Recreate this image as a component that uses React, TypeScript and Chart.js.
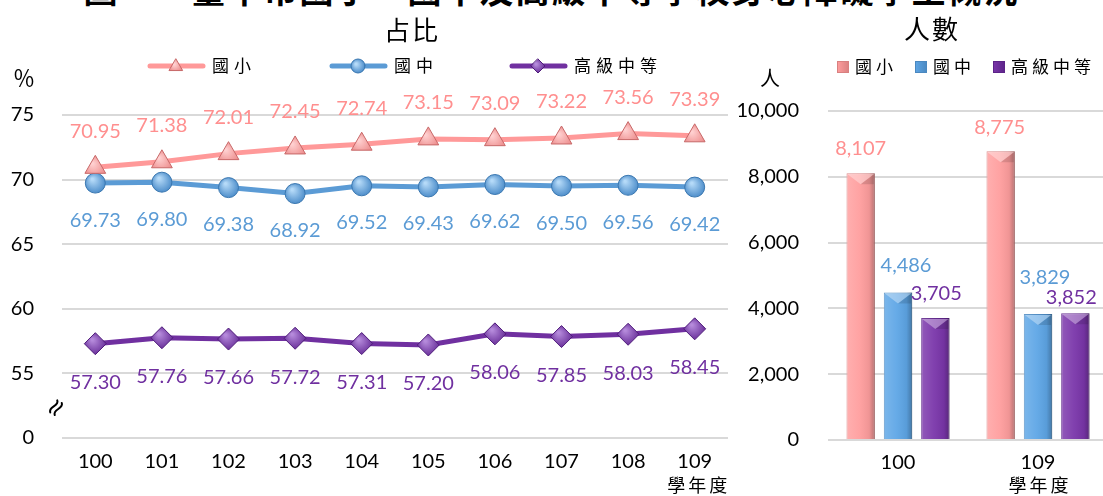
import React, { useEffect, useRef } from 'react';
import { Chart, registerables } from 'chart.js';

Chart.register(...registerables);

// ---------------- data ----------------
const years = ['100', '101', '102', '103', '104', '105', '106', '107', '108', '109'];
const primaryShare = [70.95, 71.38, 72.01, 72.45, 72.74, 73.15, 73.09, 73.22, 73.56, 73.39];
const juniorShare = [69.73, 69.8, 69.38, 68.92, 69.52, 69.43, 69.62, 69.5, 69.56, 69.42];
const seniorShare = [57.3, 57.76, 57.66, 57.72, 57.31, 57.2, 58.06, 57.85, 58.03, 58.45];

const countYears = ['100', '109'];
const primaryCount = [8107, 8775];
const juniorCount = [4486, 3829];
const seniorCount = [3705, 3852];

const seriesNames = ['國小', '國中', '高級中等'];
const shareAxisMin = 50;
const shareAxisMax = 75;
const shareStep = 5;
const shareBreakLabel = '0';
const countAxisMax = 10000;
const countStep = 2000;
const yearUnit = '學年度';
const shareTitle = '占比';
const countTitle = '人數';
const shareUnit = '％';
const countUnit = '人';
const figureTitle = '圖一　臺中市國小、國中及高級中等學校身心障礙學生概況';

// ---------------- styles ----------------
const LATIN = 'Lato, "Noto Sans", sans-serif';
const CJK = '"Noto Sans CJK TC", "Noto Sans", sans-serif';
const lineColors = ['#FF9999', '#5B9BD5', '#7030A0'];
const labelColors = ['#FF8F8F', '#5B9BD5', '#7030A0'];
const markerLight = ['#FFD0D0', '#B5DAF8', '#B58ADB'];
const markerDark = ['#E87C7C', '#3F83C4', '#5E2290'];
const markerEdge = ['#C76868', '#3A77B0', '#4F1C7A'];
const barColors = ['#FF9E9E', '#5EA6E6', '#7A36AA'];
const barEdges = ['#D98080', '#4A88C0', '#5C2388'];
const pointStyles = ['triangle', 'circle', 'rectRot'];
const pointRadii = [12, 10, 11];
const lineLabelOffsets = [-36, 37, 39];
const lineLegendX = [148, 330, 510];
const barLegendX = [837 - 720, 915 - 720, 993 - 720];
// label placement nudges [dx, dy] per series, per category (style only)
const barLabelNudge = [
  [[0, -25], [-1, -24]],
  [[8, -27], [7, -36]],
  [[1, -25], [-4, -16]],
];
const gridColor = '#D9D9D9';

function drawMarker(c: CanvasRenderingContext2D, style: string, x: number, y: number, r: number) {
  c.beginPath();
  if (style === 'triangle') {
    c.moveTo(x, y - r);
    c.lineTo(x + r * 0.95, y + r * 0.65);
    c.lineTo(x - r * 0.95, y + r * 0.65);
    c.closePath();
  } else if (style === 'circle') {
    c.arc(x, y, r, 0, Math.PI * 2);
  } else {
    c.moveTo(x, y - r);
    c.lineTo(x + r, y);
    c.lineTo(x, y + r);
    c.lineTo(x - r, y);
    c.closePath();
  }
}

function pointFill(i: number) {
  return (ctx: any) => {
    if (ctx.type !== 'data') return lineColors[i];
    const chart = ctx.chart;
    const xs = chart.scales && chart.scales.x;
    const ys = chart.scales && chart.scales.y;
    if (!xs || !ys) return lineColors[i];
    const x = xs.getPixelForValue(ctx.dataIndex);
    const y = ys.getPixelForValue(Number(ctx.raw));
    if (!Number.isFinite(x) || !Number.isFinite(y)) return lineColors[i];
    const g = chart.ctx.createRadialGradient(x - 3, y - 4, 1, x, y, pointRadii[i] + 2);
    g.addColorStop(0, markerLight[i]);
    g.addColorStop(1, markerDark[i]);
    return g;
  };
}

const shareDecor = {
  id: 'shareDecor',
  afterDatasetsDraw(chart: any) {
    const c = chart.ctx as CanvasRenderingContext2D;
    c.save();
    c.font = `20px ${LATIN}`;
    c.textAlign = 'center';
    c.textBaseline = 'middle';
    chart.data.datasets.forEach((ds: any, i: number) => {
      const meta = chart.getDatasetMeta(i);
      c.fillStyle = labelColors[i];
      meta.data.forEach((el: any, j: number) => {
        c.fillText(Number(ds.data[j]).toFixed(2), el.x, el.y + lineLabelOffsets[i]);
      });
    });
    c.restore();
  },
  afterDraw(chart: any) {
    const c = chart.ctx as CanvasRenderingContext2D;
    c.save();
    const ly = 66;
    chart.data.datasets.forEach((ds: any, i: number) => {
      const x0 = lineLegendX[i];
      c.strokeStyle = lineColors[i];
      c.lineWidth = 5;
      c.lineCap = 'round';
      c.beginPath();
      c.moveTo(x0 + 2, ly);
      c.lineTo(x0 + 55, ly);
      c.stroke();
      const g = c.createRadialGradient(x0 + 26, ly - 2, 1, x0 + 28, ly, 8);
      g.addColorStop(0, markerLight[i]);
      g.addColorStop(1, markerDark[i]);
      c.fillStyle = g;
      c.strokeStyle = markerEdge[i];
      c.lineWidth = 1;
      drawMarker(c, pointStyles[i], x0 + 28, ly, 7);
      c.fill();
      c.stroke();
      c.fillStyle = '#000';
      c.font = `17px ${CJK}`;
      (c as any).letterSpacing = '5px';
      c.textAlign = 'left';
      c.textBaseline = 'middle';
      c.fillText(ds.label, x0 + 64, ly);
      (c as any).letterSpacing = '0px';
    });
    const xs = chart.scales.x;
    c.fillStyle = '#000';
    c.font = `18px ${CJK}`;
    (c as any).letterSpacing = '3px';
    c.textAlign = 'center';
    c.textBaseline = 'middle';
    c.fillText(yearUnit, xs.getPixelForValue(years.length - 1) + 4, 485);
    (c as any).letterSpacing = '0px';
    const ys = chart.scales.y;
    const by = (ys.getPixelForValue(shareAxisMin) + ys.getPixelForValue(shareAxisMin + shareStep)) / 2 + 2;
    c.translate(56, by);
    c.rotate(-Math.PI / 3);
    c.strokeStyle = '#000';
    c.lineWidth = 2;
    [-2.6, 2.6].forEach((off) => {
      c.beginPath();
      c.moveTo(-7, off);
      c.bezierCurveTo(-3, off - 5, 3, off + 5, 7, off);
      c.stroke();
    });
    c.restore();
  },
};

const countDecor = {
  id: 'countDecor',
  afterDatasetDraw(chart: any, args: any) {
    const c = chart.ctx as CanvasRenderingContext2D;
    const meta = chart.getDatasetMeta(args.index);
    c.save();
    meta.data.forEach((el: any) => {
      const { x, y, base, width } = el.getProps(['x', 'y', 'base', 'width'], true);
      if (![x, y, base, width].every(Number.isFinite)) return;
      const left = x - width / 2;
      const g = c.createLinearGradient(left, 0, left + width, 0);
      g.addColorStop(0, 'rgba(255,255,255,0.18)');
      g.addColorStop(0.45, 'rgba(255,255,255,0.05)');
      g.addColorStop(0.8, 'rgba(0,0,0,0.06)');
      g.addColorStop(1, 'rgba(0,0,0,0.28)');
      c.fillStyle = g;
      c.fillRect(left, y, width, base - y);
      c.fillStyle = 'rgba(255,255,255,0.35)';
      c.beginPath();
      c.moveTo(left + 1, y + 1);
      c.lineTo(left + width - 1, y + 1);
      c.lineTo(x, y + 11);
      c.closePath();
      c.fill();
      c.fillStyle = 'rgba(0,0,0,0.12)';
      c.beginPath();
      c.moveTo(left + width - 1, y + 1);
      c.lineTo(left + width - 1, y + 11);
      c.lineTo(x, y + 11);
      c.closePath();
      c.fill();
    });
    c.restore();
  },
  afterDatasetsDraw(chart: any) {
    const c = chart.ctx as CanvasRenderingContext2D;
    c.save();
    c.font = `20px ${LATIN}`;
    c.textAlign = 'center';
    c.textBaseline = 'middle';
    chart.data.datasets.forEach((ds: any, i: number) => {
      const meta = chart.getDatasetMeta(i);
      c.fillStyle = labelColors[i];
      meta.data.forEach((el: any, j: number) => {
        const [dx, dy] = barLabelNudge[i][j];
        c.fillText(Number(ds.data[j]).toLocaleString('en-US'), el.x + dx, el.y + dy);
      });
    });
    c.restore();
  },
  afterDraw(chart: any) {
    const c = chart.ctx as CanvasRenderingContext2D;
    c.save();
    const ly = 67;
    chart.data.datasets.forEach((ds: any, i: number) => {
      const x0 = barLegendX[i];
      const g = c.createLinearGradient(x0, 0, x0 + 12, 0);
      g.addColorStop(0, barColors[i]);
      g.addColorStop(1, barEdges[i]);
      c.fillStyle = g;
      c.fillRect(x0, ly - 6, 12, 12);
      c.strokeStyle = barEdges[i];
      c.lineWidth = 1;
      c.strokeRect(x0 + 0.5, ly - 5.5, 11, 11);
      c.fillStyle = '#000';
      c.font = `17px ${CJK}`;
      (c as any).letterSpacing = '4px';
      c.textAlign = 'left';
      c.textBaseline = 'middle';
      c.fillText(ds.label, x0 + 18, ly);
      (c as any).letterSpacing = '0px';
    });
    const xs = chart.scales.x;
    c.fillStyle = '#000';
    c.font = `18px ${CJK}`;
    (c as any).letterSpacing = '3px';
    c.textAlign = 'center';
    c.textBaseline = 'middle';
    c.fillText(yearUnit, xs.getPixelForValue(countYears.length - 1) + 2, 485);
    c.restore();
  },
};

export default function App() {
  const leftRef = useRef<HTMLCanvasElement>(null);
  const rightRef = useRef<HTMLCanvasElement>(null);

  useEffect(() => {
    const shareSeries = [primaryShare, juniorShare, seniorShare];
    const left = new Chart(leftRef.current!, {
      type: 'line',
      data: {
        labels: years,
        datasets: shareSeries.map((d, i) => ({
          label: seriesNames[i],
          data: d,
          borderColor: lineColors[i],
          borderWidth: 5,
          tension: 0,
          pointStyle: pointStyles[i] as any,
          pointRadius: pointRadii[i],
          pointBackgroundColor: pointFill(i),
          pointBorderColor: markerEdge[i],
          pointBorderWidth: 1,
        })),
      },
      options: {
        responsive: false,
        animation: false,
        devicePixelRatio: 1,
        layout: { padding: { top: 115, right: 17, left: 0, bottom: 0 } },
        plugins: { legend: { display: false }, title: { display: false }, tooltip: { enabled: false } },
        scales: {
          x: {
            offset: true,
            grid: { display: false, drawTicks: false },
            border: { display: false },
            ticks: { color: '#000', font: { family: LATIN, size: 20 }, padding: 12, maxRotation: 0, autoSkip: false },
            afterFit: (s: any) => { s.height = 58; },
          },
          y: {
            min: shareAxisMin,
            max: shareAxisMax,
            grid: { color: gridColor, lineWidth: 2, drawTicks: false },
            border: { display: false },
            ticks: {
              stepSize: shareStep,
              color: '#000',
              font: { family: LATIN, size: 20 },
              padding: 28,
              callback: (v: any) => (Number(v) === shareAxisMin ? shareBreakLabel : String(v)),
            },
            afterFit: (s: any) => { s.width = 62; },
          },
        },
      },
      plugins: [shareDecor],
    });

    const countSeries = [primaryCount, juniorCount, seniorCount];
    const right = new Chart(rightRef.current!, {
      type: 'bar',
      data: {
        labels: countYears,
        datasets: countSeries.map((d, i) => ({
          label: seriesNames[i],
          data: d,
          backgroundColor: barColors[i],
          borderColor: barEdges[i],
          borderWidth: 1,
          barPercentage: 0.76,
          categoryPercentage: 0.8,
        })),
      },
      options: {
        responsive: false,
        animation: false,
        devicePixelRatio: 1,
        layout: { padding: { top: 111, right: 12, left: 0, bottom: 0 } },
        plugins: { legend: { display: false }, title: { display: false }, tooltip: { enabled: false } },
        scales: {
          x: {
            grid: { display: false, drawTicks: false },
            border: { display: false },
            ticks: { color: '#000', font: { family: LATIN, size: 20 }, padding: 11, maxRotation: 0 },
            afterFit: (s: any) => { s.height = 56; },
          },
          y: {
            min: 0,
            max: countAxisMax,
            grid: { color: gridColor, lineWidth: 2, drawTicks: false },
            border: { display: false },
            ticks: {
              stepSize: countStep,
              color: '#000',
              font: { family: LATIN, size: 20 },
              padding: 29,
              callback: (v: any) => Number(v).toLocaleString('en-US'),
            },
            afterFit: (s: any) => { s.width = 108; },
          },
        },
      },
      plugins: [countDecor],
    });

    return () => {
      left.destroy();
      right.destroy();
    };
  }, []);

  const abs: React.CSSProperties = { position: 'absolute', whiteSpace: 'nowrap', lineHeight: 1, color: '#000' };

  return (
    <div style={{ position: 'fixed', left: 0, top: 0, width: 1103, height: 496, overflow: 'hidden', background: '#fff' }}>
      <div style={{ ...abs, left: 0, width: 1103, top: -28, textAlign: 'center', fontFamily: CJK, fontSize: 34, fontWeight: 700, letterSpacing: 2 }}>
        {figureTitle}
      </div>
      <canvas ref={leftRef} width={745} height={496} style={{ position: 'absolute', left: 0, top: 0, width: 745, height: 496 }} />
      <canvas ref={rightRef} width={400} height={496} style={{ position: 'absolute', left: 720, top: 0, width: 400, height: 496 }} />
      <div style={{ ...abs, left: 412, top: 16, transform: 'translateX(-50%)', fontFamily: CJK, fontSize: 26, letterSpacing: 2 }}>{shareTitle}</div>
      <div style={{ ...abs, left: 932, top: 15, transform: 'translateX(-50%)', fontFamily: CJK, fontSize: 26, letterSpacing: 2 }}>{countTitle}</div>
      <div style={{ ...abs, left: 24, top: 65, transform: 'translateX(-50%)', fontFamily: CJK, fontSize: 22 }}>{shareUnit}</div>
      <div style={{ ...abs, left: 770, top: 68, transform: 'translateX(-50%)', fontFamily: CJK, fontSize: 20 }}>{countUnit}</div>
    </div>
  );
}
